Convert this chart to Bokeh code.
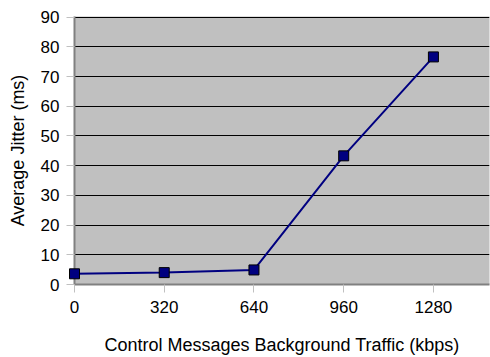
from bokeh.plotting import figure
from bokeh.models import FixedTicker
from bokeh.embed import file_html
from bokeh.resources import INLINE

traffic_kbps = [0, 320, 640, 960, 1280]
jitter_ms = [3.6, 4.0, 4.9, 43.3, 76.6]
x_ticks = [0, 320, 640, 960, 1280]
y_ticks = [0, 10, 20, 30, 40, 50, 60, 70, 80, 90]

FONT = "Liberation Sans"

p = figure(width=490, height=357, x_range=(0, 1480), y_range=(0, 90.2),
           output_backend="svg", toolbar_location=None,
           min_border_left=74, min_border_right=1, min_border_top=16, min_border_bottom=73)

p.background_fill_color = "#c0c0c0"
p.border_fill_color = "white"
p.outline_line_color = None

p.xgrid.grid_line_color = None
p.ygrid.grid_line_color = "black"
p.ygrid.grid_line_width = 1
p.ygrid.ticker = FixedTicker(ticks=y_ticks)

for ax in (p.xaxis[0], p.yaxis[0]):
    ax.axis_line_color = "#808080"
    ax.axis_line_width = 2
    ax.major_tick_line_color = "#c0c0c0"
    ax.major_tick_out = 8
    ax.major_tick_in = 0
    ax.minor_tick_line_color = None
    ax.major_label_text_font = FONT
    ax.major_label_text_font_size = "17px"
    ax.major_label_text_color = "black"
    ax.axis_label_text_font = FONT
    ax.axis_label_text_font_size = "18px"
    ax.axis_label_text_font_style = "normal"
    ax.axis_label_text_color = "black"

p.xaxis.ticker = FixedTicker(ticks=x_ticks)
p.yaxis.ticker = FixedTicker(ticks=y_ticks)
p.xaxis.axis_label = "Control Messages Background Traffic (kbps)"
p.yaxis.axis_label = "Average Jitter (ms)"
p.xaxis.major_label_standoff = 8
p.xaxis.axis_label_standoff = 19
p.yaxis.major_label_standoff = 7
p.yaxis.axis_label_standoff = 10

p.line(traffic_kbps, jitter_ms, line_color="#000080", line_width=2)
r = p.scatter(traffic_kbps, jitter_ms, marker="square", size=10,
              fill_color="#000080", line_color="black", line_width=1)
r.level = "overlay"

open("out.html", "w").write(file_html(p, INLINE))
